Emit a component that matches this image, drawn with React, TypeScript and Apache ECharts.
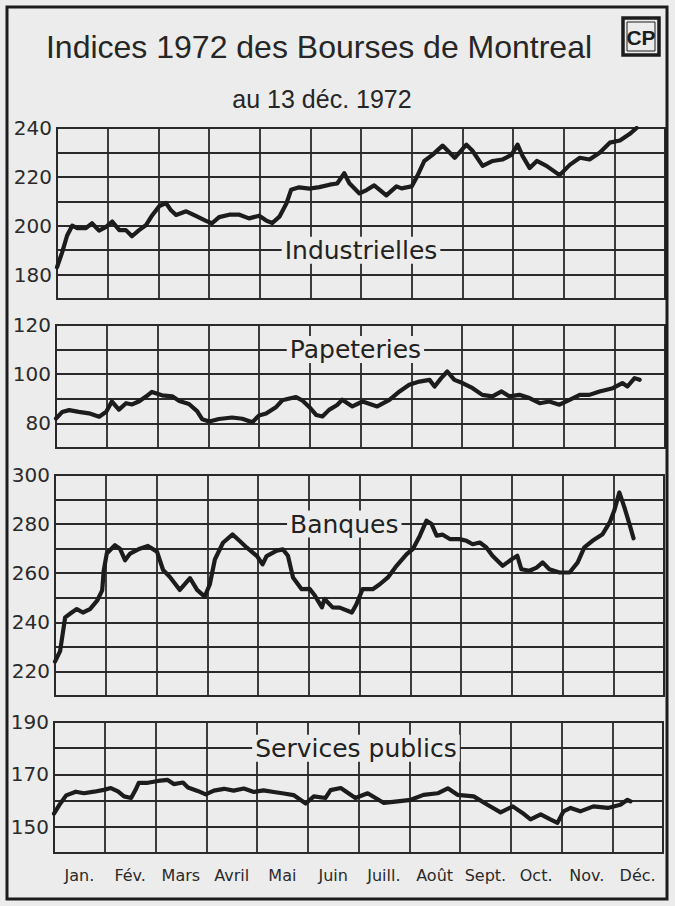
import React, { useEffect, useRef } from "react";
import * as echarts from "echarts";

// Month categories (x axis)
const months = ["Jan.", "Fév.", "Mars", "Avril", "Mai", "Juin", "Juill.", "Août", "Sept.", "Oct.", "Nov.", "Déc."];

// [month position (0 = 1 Jan, 12 = 31 Dec), index value]
const industrielles: [number, number][] = [
  [0.0, 183], [0.1, 189], [0.2, 196], [0.3, 200], [0.4, 199], [0.57, 199], [0.69, 201], [0.83, 198],
  [0.97, 199.5], [1.09, 201.7], [1.23, 198.2], [1.36, 198.2], [1.48, 195.7], [1.62, 198.2], [1.76, 200.3],
  [1.88, 204.3], [2.02, 208], [2.15, 209.3], [2.25, 206.3], [2.35, 204.4], [2.55, 205.9], [2.75, 203.9],
  [2.94, 202], [3.06, 201], [3.2, 203.5], [3.4, 204.5], [3.6, 204.5], [3.79, 203], [3.99, 204.1],
  [4.13, 202.1], [4.25, 201.1], [4.39, 203.7], [4.53, 209.2], [4.62, 214.7], [4.78, 215.7], [4.98, 215.2],
  [5.18, 215.8], [5.38, 216.8], [5.53, 217.3], [5.67, 221.5], [5.77, 217.4], [5.97, 213.2], [6.11, 214.6],
  [6.26, 216.5], [6.5, 212.4], [6.7, 216.1], [6.8, 215.3], [7.0, 216.1], [7.11, 220.3], [7.25, 226.5],
  [7.41, 229], [7.61, 232.8], [7.85, 227.8], [8.08, 233.2], [8.2, 230.7], [8.4, 224.5], [8.6, 226.5],
  [8.79, 227.1], [8.97, 229], [9.09, 233.2], [9.19, 228.5], [9.33, 223.6], [9.47, 226.5], [9.66, 224.5],
  [9.92, 220.7], [10.12, 224.9], [10.32, 227.8], [10.51, 227.1], [10.71, 229.9], [10.91, 234],
  [11.11, 234.9], [11.3, 237.5], [11.44, 240],
];

const papeteries: [number, number][] = [
  [0.0, 82], [0.12, 84.6], [0.26, 85.4], [0.45, 84.7], [0.65, 84.1], [0.85, 82.7], [0.99, 84.7], [1.1, 88.9],
  [1.24, 85.6], [1.38, 88.2], [1.5, 87.7], [1.64, 89], [1.78, 91], [1.89, 92.8], [2.09, 91.4], [2.29, 91],
  [2.43, 89.1], [2.62, 87.9], [2.78, 85], [2.88, 81.7], [3.02, 80.8], [3.21, 81.8], [3.47, 82.4],
  [3.67, 81.9], [3.87, 80.5], [4.0, 83.2], [4.14, 84], [4.34, 86.7], [4.46, 89.4], [4.6, 90.1], [4.73, 90.7],
  [4.85, 89.4], [4.99, 86.7], [5.13, 83.4], [5.25, 82.8], [5.38, 85.5], [5.54, 87.5], [5.64, 89.6],
  [5.84, 86.9], [6.04, 88.9], [6.33, 86.9], [6.57, 89.6], [6.77, 93], [6.96, 95.7], [7.16, 97], [7.36, 97.7],
  [7.46, 95], [7.59, 98.4], [7.71, 101.1], [7.85, 97.7], [8.01, 96.4], [8.21, 94.3], [8.4, 91.6], [8.6, 91],
  [8.78, 93], [8.93, 91], [9.13, 91.6], [9.33, 90.3], [9.53, 88.2], [9.72, 88.9], [9.92, 87.6], [10.12, 89.6],
  [10.32, 91.6], [10.51, 91.6], [10.71, 93], [10.97, 94.3], [11.16, 96.4], [11.26, 95], [11.4, 98.4],
  [11.5, 97.7],
];

const banques: [number, number][] = [
  [0.0, 224], [0.1, 228.3], [0.14, 233.7], [0.2, 242], [0.33, 244], [0.43, 245.4], [0.55, 244], [0.69, 245.4],
  [0.83, 248.8], [0.93, 253], [0.96, 261.1], [1.02, 268], [1.18, 271.4], [1.28, 270], [1.38, 265.3],
  [1.48, 268], [1.67, 270], [1.83, 271.1], [2.01, 268.8], [2.13, 261.3], [2.26, 258.6], [2.46, 253.2],
  [2.66, 258], [2.8, 253.2], [2.95, 250.5], [3.05, 255.4], [3.15, 265.6], [3.31, 272.4], [3.5, 275.8],
  [3.64, 273.1], [3.78, 270.4], [3.98, 267], [4.09, 263.6], [4.17, 267], [4.37, 269.2], [4.49, 269.7],
  [4.59, 267.1], [4.69, 258.3], [4.86, 253.5], [5.02, 253.6], [5.12, 250.9], [5.26, 246.1], [5.31, 249.5],
  [5.47, 246.1], [5.61, 246], [5.85, 244], [5.94, 247.4], [6.06, 253.5], [6.26, 253.5], [6.4, 255.5],
  [6.56, 258.3], [6.73, 263], [6.93, 267.8], [7.05, 269.8], [7.19, 275.3], [7.32, 281.4], [7.42, 280],
  [7.52, 275.3], [7.64, 275.7], [7.78, 273.9], [7.97, 273.9], [8.11, 273.2], [8.23, 271.8], [8.37, 272.5],
  [8.5, 270.5], [8.62, 267.1], [8.82, 263], [9.0, 265.7], [9.11, 267.1], [9.19, 261.6], [9.35, 261],
  [9.49, 262.3], [9.61, 264.4], [9.74, 261.6], [9.94, 260.3], [10.14, 260.3], [10.3, 264.4], [10.43, 270.5],
  [10.59, 273.2], [10.79, 275.9], [10.93, 280.7], [11.02, 285.5], [11.12, 292.9], [11.22, 286.8],
  [11.32, 280], [11.4, 274.2],
];

const servicesPublics: [number, number][] = [
  [0.0, 155], [0.1, 158.2], [0.24, 162], [0.43, 163.4], [0.59, 162.8], [0.79, 163.4], [0.98, 164.1],
  [1.12, 164.8], [1.26, 163.5], [1.38, 161.6], [1.52, 161], [1.61, 164.2], [1.67, 166.8], [1.85, 166.8],
  [2.05, 167.5], [2.24, 167.9], [2.36, 166.3], [2.54, 166.9], [2.64, 165], [2.83, 163.7], [2.99, 162.4],
  [3.15, 163.8], [3.35, 164.5], [3.54, 163.8], [3.74, 164.6], [3.94, 163.3], [4.13, 163.9], [4.33, 163.3],
  [4.53, 162.7], [4.72, 162.1], [4.96, 158.9], [5.12, 161.6], [5.35, 161], [5.45, 164], [5.65, 164.8],
  [5.94, 161], [6.18, 162.8], [6.5, 159.1], [6.77, 159.7], [7.03, 160.3], [7.28, 162.2], [7.56, 162.8],
  [7.76, 164.7], [7.95, 162.2], [8.27, 161.6], [8.54, 158.4], [8.8, 155.5], [9.04, 157.8], [9.23, 155.3],
  [9.39, 152.8], [9.59, 154.7], [9.78, 152.8], [9.92, 151.5], [10.04, 155.9], [10.18, 157.2],
  [10.37, 155.9], [10.63, 157.8], [10.91, 157.2], [11.16, 158.4], [11.3, 160.3], [11.36, 159.7],
];

// Panels
const panelNames = ["Industrielles", "Papeteries", "Banques", "Services publics"];
const panelSeries = [industrielles, papeteries, banques, servicesPublics];
const yMins = [170, 70, 210, 140];
const yMaxs = [240, 120, 300, 190];
const yLabelBases = [180, 80, 220, 150]; // labelled every 20 from these
const gridStep = 10;
const labelAnchors: [number, number][] = [[6.0, 190], [5.9, 110], [5.7, 280], [5.95, 180]];

const titleText = "Indices 1972 des Bourses de Montreal";
const subtitleText = "au 13 déc. 1972";

const BG = "#ececec";
const INK = "#1c1c1c";
const GRID_INK = "#2a2a2a";
const SANS = '"DejaVu Sans", Verdana, sans-serif';
const NARROW = '"Liberation Sans Narrow", "Arial Narrow", "Liberation Sans", sans-serif';

const gridBoxes = [
  { left: 57, top: 128, width: 608, height: 171 },
  { left: 56, top: 325, width: 609, height: 123 },
  { left: 55, top: 475, width: 609, height: 221 },
  { left: 54, top: 722, width: 609, height: 131 },
];

export default function App() {
  const ref = useRef<HTMLDivElement>(null);

  useEffect(() => {
    if (!ref.current) return;
    const chart = echarts.init(ref.current, undefined, { renderer: "svg" });

    const grid = gridBoxes.map((g) => ({
      ...g,
      show: true,
      borderColor: GRID_INK,
      borderWidth: 2,
      backgroundColor: "transparent",
    }));

    const xAxis: any[] = gridBoxes.map((_, i) => ({
      type: "value",
      gridIndex: i,
      min: 0,
      max: 12,
      interval: 1,
      axisLabel: { show: false },
      axisTick: { show: false },
      axisLine: { show: false },
      splitLine: { show: true, lineStyle: { color: GRID_INK, width: 1.8 } },
    }));
    xAxis.push({
      type: "category",
      gridIndex: 3,
      data: months,
      position: "bottom",
      boundaryGap: true,
      axisLine: { show: false },
      axisTick: { show: false },
      splitLine: { show: false },
      axisLabel: { fontFamily: SANS, fontSize: 16, color: "#2a2a2a", margin: 14, interval: 0 },
    });

    const yAxis = gridBoxes.map((_, i) => ({
      type: "value",
      gridIndex: i,
      min: yMins[i],
      max: yMaxs[i],
      interval: gridStep,
      axisLine: { show: false },
      axisTick: { show: false },
      splitLine: { show: true, lineStyle: { color: GRID_INK, width: 1.8 } },
      axisLabel: {
        fontFamily: SANS,
        fontSize: 20,
        color: "#2a2a2a",
        margin: 5,
        formatter: (v: number) => ((v - yLabelBases[i]) % 20 === 0 ? String(v) : ""),
      },
    }));

    const series = panelSeries.map((data, i) => ({
      type: "line",
      name: panelNames[i],
      xAxisIndex: i,
      yAxisIndex: i,
      data,
      showSymbol: false,
      symbol: "none",
      z: 5,
      lineStyle: { color: INK, width: 4.2, join: "round", cap: "round" },
    }));

    chart.setOption({
      animation: false,
      backgroundColor: BG,
      grid,
      xAxis,
      yAxis,
      series,
    });

    const labels = panelNames.map((name, i) => {
      const p = chart.convertToPixel({ xAxisIndex: i, yAxisIndex: i } as any, labelAnchors[i]) as number[];
      return {
        type: "text",
        z: 10,
        x: p[0],
        y: p[1],
        style: {
          text: name,
          font: `25px ${SANS}`,
          fill: "#222",
          align: "center",
          verticalAlign: "middle",
          backgroundColor: BG,
          padding: [1, 3, 1, 3],
        },
      };
    });

    chart.setOption({
      graphic: [
        {
          type: "rect",
          z: 1,
          shape: { x: 7, y: 7, width: 660, height: 892 },
          style: { fill: "none", stroke: INK, lineWidth: 3 },
        },
        {
          type: "text",
          x: 319,
          y: 47,
          style: {
            text: titleText,
            font: `32px ${NARROW}`,
            fill: "#262626",
            align: "center",
            verticalAlign: "middle",
          },
        },
        {
          type: "text",
          x: 322,
          y: 99,
          style: {
            text: subtitleText,
            font: `25px ${NARROW}`,
            fill: "#262626",
            align: "center",
            verticalAlign: "middle",
          },
        },
        {
          type: "group",
          x: 623,
          y: 18,
          children: [
            { type: "rect", shape: { x: 0, y: 0, width: 36, height: 37 }, style: { fill: "none", stroke: INK, lineWidth: 3.5 } },
            { type: "rect", shape: { x: 4, y: 4, width: 28, height: 29 }, style: { fill: "none", stroke: INK, lineWidth: 1 } },
            {
              type: "text",
              x: 18,
              y: 19,
              style: { text: "CP", font: `bold 21px ${NARROW}`, fill: INK, align: "center", verticalAlign: "middle" },
            },
          ],
        },
        ...labels,
      ],
    });

    return () => chart.dispose();
  }, []);

  return (
    <div
      ref={ref}
      style={{ position: "absolute", left: 0, top: 0, width: 675, height: 906, background: BG }}
    />
  );
}
